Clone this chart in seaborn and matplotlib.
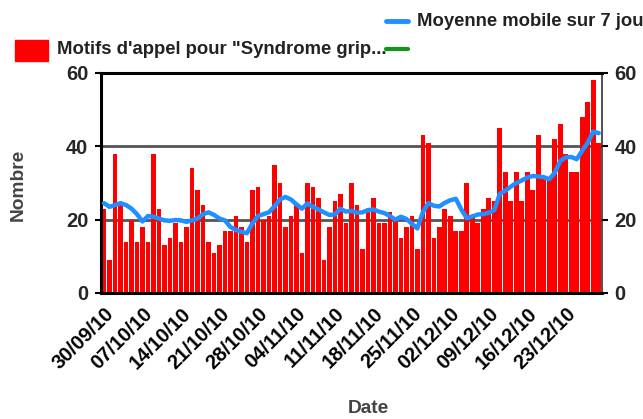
import matplotlib
matplotlib.use("Agg")
import matplotlib.pyplot as plt
import seaborn as sns
import numpy as np
import pandas as pd
from matplotlib.patches import Rectangle
from matplotlib.lines import Line2D

# ---- data ----
dates = pd.date_range("2010-09-30", periods=91, freq="D")
day_labels = [d.strftime("%d/%m/%y") for d in dates]

counts = [23, 9, 38, 24, 14, 20, 14, 18, 14, 38, 23, 13, 15, 19, 14,
          18, 34, 28, 24, 14, 11, 13, 17, 17, 21, 18, 14, 28, 29,
          20, 21, 35, 30, 18, 21, 24, 11, 30, 29, 26, 9, 18, 25, 27, 19, 30,
          24, 12, 22, 26, 19, 19, 22, 20, 15, 18, 21, 12, 43, 41, 15,
          18, 23, 21, 17, 17, 30,
          21, 19, 23, 26, 25, 45, 33, 25, 33, 25, 33, 28, 43, 31, 31, 42, 46,
          38, 33, 33, 48, 52, 58, 41]

moving_avg = [24.5, 23.5, 24.0, 24.5, 24.0, 23.0, 21.5, 19.5, 21.0, 20.8, 20.3,
              19.8, 19.7, 19.9, 19.8,
              19.4, 19.8, 20.3, 21.5, 22.0, 21.3, 20.3, 19.8, 18.0, 17.2, 16.7,
              16.3, 19.0, 21.0, 21.5,
              22.0, 23.6, 25.5, 26.2, 25.5, 24.2, 23.0, 24.4, 23.5, 22.8, 22.0,
              21.3, 21.4, 23.0, 22.2, 22.4,
              21.9, 22.0, 22.6, 22.8, 22.2, 21.8, 21.0, 20.0, 20.8, 20.2, 18.9,
              17.6, 22.0, 24.5, 23.8,
              23.6, 24.6, 25.3, 25.7, 22.8, 20.4, 20.9, 21.4, 21.5, 21.9, 22.6,
              27.0, 27.9, 29.0, 30.0,
              30.7, 31.5, 31.9, 31.8, 31.6, 31.0, 32.8, 36.0, 37.0, 37.1, 36.5,
              38.8, 41.0, 44.0, 43.6]

yticks = [0, 20, 40, 60]
bar_label = "Motifs d'appel pour \"Syndrome grip..."
line_label = "Moyenne mobile sur 7 jours"

sns.set_style("white")
plt.rcParams["font.family"] = ["Liberation Sans", "DejaVu Sans"]

FS = 13.3
TFS = 14.5
W, H = 643, 419
fig = plt.figure(figsize=(W / 100, H / 100), dpi=100)
L, R, T, B = 101, 602, 73, 293
ax = fig.add_axes([L / W, 1 - B / H, (R - L) / W, (B - T) / H])

idx = np.arange(len(counts))
df = pd.DataFrame({"i": idx, "n": counts, "ma": moving_avg})

sns.barplot(data=df, x="i", y="n", color="#FF0000", saturation=1, width=0.84,
            linewidth=0, ax=ax, native_scale=True)
ax.axhline(20, color="#555555", lw=2, zorder=0.5)
ax.axhline(40, color="#555555", lw=2, zorder=0.5)
sns.lineplot(data=df, x="i", y="ma", color="#1E90FF", lw=3.2, ax=ax, zorder=5)

ax.set_xlim(-0.55, 90.6)
ax.set_ylim(0, 60)
ax.set_yticks(yticks)
ax.set_yticklabels([str(v) for v in yticks])
ax.set_xlabel("")
ax.set_ylabel("")

# ticks at each week
wk = idx[::7]
ax.set_xticks(wk)
ax.set_xticklabels([day_labels[i] for i in wk], rotation=45,
                   ha="right", va="top", rotation_mode="anchor",
                   fontsize=TFS, fontweight="bold", color="black")
ax.tick_params(axis="x", which="major", length=5, width=1.5, color="black",
               direction="out", pad=3)

ax.tick_params(axis="y", which="major", left=True, right=True, labelleft=True,
               labelright=True, length=4, width=1.5, color="black",
               labelsize=TFS, pad=5)
for t in ax.get_yticklabels():
    t.set_fontweight("bold")

for s in ["left", "bottom", "top"]:
    ax.spines[s].set_color("black")
    ax.spines[s].set_linewidth(2.2)
ax.spines["right"].set_color("#333333")
ax.spines["right"].set_linewidth(1.2)

fig.text(18 / W, 1 - 185 / H, "Nombre", rotation=90, ha="center", va="center",
         fontsize=FS + 0.5, fontweight="bold", color="#444444")
fig.text(368 / W, 1 - 408 / H, "Date", ha="center", va="center",
         fontsize=FS + 0.5, fontweight="bold", color="#444444")

# legend
fig.patches.append(Rectangle((15 / W, 1 - 61 / H), 33 / W, 21 / H,
                             transform=fig.transFigure, color="#FF0000"))
fig.text(57 / W, 1 - 50 / H, bar_label, ha="left", va="center",
         fontsize=FS, fontweight="bold", color="#222222")
fig.lines.append(Line2D([386 / W, 408 / W], [1 - 49 / H, 1 - 49 / H],
                        transform=fig.transFigure, color="#109618", lw=3))
fig.lines.append(Line2D([386 / W, 408 / W], [1 - 21 / H, 1 - 21 / H],
                        transform=fig.transFigure, color="#1E90FF", lw=3.5))
fig.text(417 / W, 1 - 22 / H, line_label, ha="left", va="center",
         fontsize=FS, fontweight="bold", color="#222222")

fig.savefig("out.png", dpi=100)
